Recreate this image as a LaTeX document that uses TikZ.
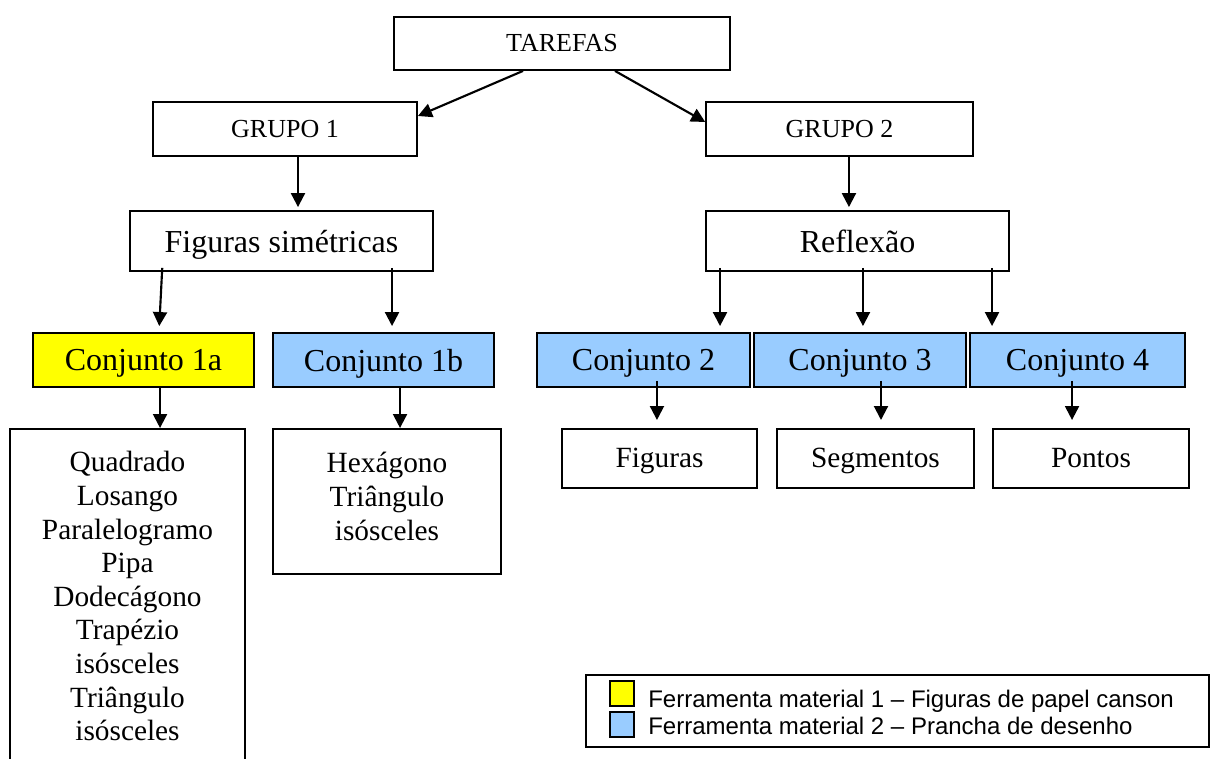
\documentclass[tikz,border=0pt]{standalone}
\usepackage{fontspec}
\setmainfont{Liberation Serif}
\newfontfamily\legendfont{Liberation Sans}
\usetikzlibrary{arrows.meta}
\definecolor{matyellow}{HTML}{FFFF00}
\definecolor{matblue}{HTML}{99CCFF}

\begin{document}
\begin{tikzpicture}[x=0.75pt, y=-0.75pt,
  box/.style={draw, line width=1.4pt, inner sep=0pt, align=center},
  small/.style={box, font=\fontsize{19.5}{23}\selectfont, minimum height=40.5pt},
  big/.style={box, font=\fontsize{24}{28}\selectfont, text depth=0pt},
  conj/.style={big, minimum height=40.5pt},
  list/.style={box, font=\fontsize{22}{25.2}\selectfont},
  leaf/.style={list, anchor=north, text depth=0pt, minimum height=44pt},
  swatch/.style={draw, line width=1.2pt, inner sep=0pt, minimum width=18pt, minimum height=18.75pt},
  arr/.style={-{Triangle[length=10.5pt,width=10.5pt]}, line width=1.6pt}
]

\useasboundingbox (0, 0) rectangle (1210, 759);
\clip (0, 0) rectangle (1210, 759);

% Define nodes
\node[small, minimum width=252pt, minimum height=39.75pt] (tarefas) at (562, 43.5) {TAREFAS};
\node[small, minimum width=198pt] (grupo1) at (285, 129) {GRUPO 1};
\node[small, minimum width=200pt] (grupo2) at (839.5, 129) {GRUPO 2};

\node[big, minimum width=227.25pt, minimum height=45pt] (simetricas) at (281.5, 241) {Figuras simétricas};
\node[big, minimum width=227.25pt, minimum height=45pt] (reflexao) at (857.5, 241) {Reflexão};

\node[conj, fill=matyellow, minimum width=165.75pt] (conj1a) at (143.5, 360) {Conjunto 1a};
\node[conj, fill=matblue, minimum width=165.75pt] (conj1b) at (383.5, 360) {Conjunto 1b};
\node[conj, fill=matblue, minimum width=159.75pt] (conj2) at (643.5, 360) {Conjunto 2};
\node[conj, fill=matblue, minimum width=159pt] (conj3) at (860, 360) {Conjunto 3};
\node[conj, fill=matblue, minimum width=161.25pt] (conj4) at (1077.5, 360) {Conjunto 4};

\node[list, anchor=north, minimum width=176.25pt, minimum height=251pt] (quadrado) at (127.5, 428)
  {Quadrado\\Losango\\Paralelogramo\\Pipa\\Dodecágono\\Trapézio\\isósceles\\Triângulo\\isósceles};
\node[list, anchor=north, minimum width=171pt, minimum height=108.75pt] (hexagono) at (387, 428)
  {Hexágono\\Triângulo\\isósceles\strut};
\node[leaf, minimum width=146.25pt] (figuras) at (659.5, 428) {Figuras};
\node[leaf, minimum width=147.75pt] (segmentos) at (875.5, 428) {Segmentos};
\node[leaf, minimum width=147pt] (pontos) at (1091, 428) {Pontos};

% Legend
\node[draw, line width=1.1pt, minimum width=467.25pt, minimum height=54pt, inner sep=0pt] (legenda) at (897.5, 711) {};
\node[swatch, fill=matyellow] (cor1) at (622, 693.5) {};
\node[swatch, fill=matblue] (cor2) at (622, 724.5) {};
\node[anchor=base west, inner sep=0pt, font=\legendfont\fontsize{18}{20}\selectfont] (ferramenta1) at (648, 707)
  {Ferramenta material 1 – Figuras de papel canson};
\node[anchor=base west, inner sep=0pt, font=\legendfont\fontsize{18}{20}\selectfont] (ferramenta2) at (648, 734)
  {Ferramenta material 2 – Prancha de desenho};

% Draw arrows
\draw[arr] ([xshift=-29.25pt]tarefas.south) -- ([yshift=9.75pt]grupo1.east);
\draw[arr] ([xshift=39.75pt]tarefas.south) -- ([yshift=5.25pt]grupo2.west);
\draw[arr, shorten >=2.25pt] ([xshift=9.75pt]grupo1.south) -- ([xshift=9.75pt]grupo1.south |- simetricas.north);
\draw[arr, shorten >=2.25pt] ([xshift=7.1pt]grupo2.south) -- ([xshift=7.1pt]grupo2.south |- reflexao.north);

\draw[arr, shorten <=-3pt, shorten >=4.5pt] ([xshift=-89.6pt]simetricas.south) -- ([xshift=11.6pt]conj1a.north);
\draw[arr, shorten <=-3pt, shorten >=4.5pt] ([xshift=82.9pt]simetricas.south) -- ([xshift=82.9pt]simetricas.south |- conj1b.north);
\draw[arr, shorten <=-3pt, shorten >=4.5pt] ([xshift=-103.1pt]reflexao.south) -- ([xshift=-103.1pt]reflexao.south |- conj2.north);
\draw[arr, shorten <=-3pt, shorten >=4.5pt] ([xshift=4.1pt]reflexao.south) -- ([xshift=4.1pt]reflexao.south |- conj3.north);
\draw[arr, shorten <=-3pt, shorten >=4.5pt] ([xshift=100.9pt]reflexao.south) -- ([xshift=100.9pt]reflexao.south |- conj4.north);

\draw[arr] ([xshift=12.4pt]conj1a.south) -- ([xshift=12.4pt]conj1a.south |- quadrado.north);
\draw[arr] ([xshift=12.4pt]conj1b.south) -- ([xshift=12.4pt]conj1b.south |- hexagono.north);
\draw[arr, shorten <=-5.25pt, shorten >=6pt] ([xshift=10.1pt]conj2.south) -- ([xshift=10.1pt]conj2.south |- figuras.north);
\draw[arr, shorten <=-5.25pt, shorten >=6pt] ([xshift=15.75pt]conj3.south) -- ([xshift=15.75pt]conj3.south |- segmentos.north);
\draw[arr, shorten <=-5.25pt, shorten >=6pt] ([xshift=-4.1pt]conj4.south) -- ([xshift=-4.1pt]conj4.south |- pontos.north);
\end{tikzpicture}
\end{document}
